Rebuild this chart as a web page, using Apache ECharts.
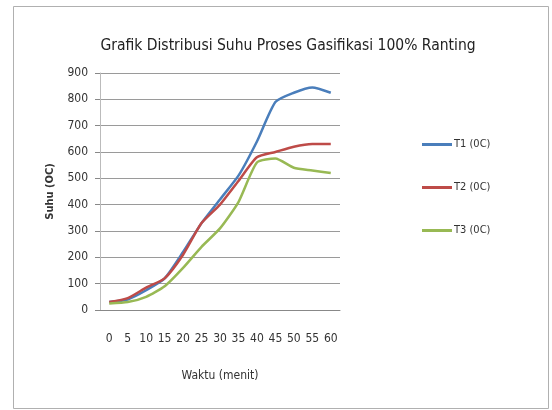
<!DOCTYPE html>
<html>
<head>
    <meta charset="utf-8">
    <style>
        html, body { height: 100%; }
        * { margin: 0; padding: 0; }
        #container { width: 552px; height: 410px; background: #fff; }
    </style>
</head>
<body>
<div id="container"></div>
<script type="text/javascript" src="https://cdn.jsdelivr.net/npm/echarts/dist/echarts.min.js"></script>
<script type="text/javascript">
    // waktu (menit)
    let waktu = ['0', '5', '10', '15', '20', '25', '30', '35', '40', '45', '50', '55', '60'];
    // suhu tiap titik
    let t1 = [30, 40, 75, 120, 220, 330, 420, 510, 640, 790, 825, 845, 825];
    let t2 = [30, 45, 85, 120, 210, 330, 400, 490, 580, 600, 620, 630, 630];
    let t3 = [25, 30, 50, 90, 160, 240, 310, 410, 560, 575, 540, 530, 520];

    let font = '"Liberation Sans Narrow", "DejaVu Sans Condensed", sans-serif';
    let myChart = echarts.init(document.getElementById('container'));

    function seri(name, data, color) {
        return {
            name: name,
            type: 'line',
            data: data,
            showSymbol: false,
            smooth: 0.2,
            lineStyle: { width: 2.5, color: color },
            itemStyle: { color: color }
        };
    }

    let option = {
        animation: false,
        backgroundColor: '#fff',
        graphic: [{
            type: 'rect',
            shape: { x: 13.5, y: 6.5, width: 535, height: 402 },
            style: { fill: 'none', stroke: '#b0b0b0', lineWidth: 1 },
            silent: true
        }],
        title: {
            text: 'Grafik Distribusi Suhu Proses Gasifikasi 100% Ranting',
            left: 283,
            top: 33,
            textAlign: 'center',
            textStyle: { fontFamily: font, fontSize: 15.5, fontWeight: 'normal', color: '#222' }
        },
        legend: {
            orient: 'vertical',
            left: 417,
            top: 134,
            itemGap: 32,
            itemWidth: 30,
            itemHeight: 3,
            icon: 'rect',
            textStyle: { fontFamily: font, fontSize: 11, color: '#333', padding: [0, 0, 0, -3] },
            data: ['T1 (0C)', 'T2 (0C)', 'T3 (0C)']
        },
        grid: { left: 100, right: 212, top: 73, bottom: 100 },
        xAxis: {
            type: 'category',
            data: waktu,
            boundaryGap: true,
            name: 'Waktu (menit)',
            nameLocation: 'middle',
            nameGap: 60,
            nameTextStyle: { fontFamily: font, fontSize: 12, color: '#333' },
            axisLine: { lineStyle: { color: '#888' } },
            axisTick: { show: false },
            axisLabel: { fontFamily: font, fontSize: 12, color: '#333', margin: 23 }
        },
        yAxis: {
            type: 'value',
            min: 0,
            max: 900,
            interval: 100,
            name: 'Suhu (OC)',
            nameLocation: 'middle',
            nameGap: 44,
            nameTextStyle: { fontFamily: font, fontSize: 11, fontWeight: 'bold', color: '#333' },
            axisLine: { show: true, lineStyle: { color: '#bbb' } },
            axisTick: { show: true, length: 5, lineStyle: { color: '#888' } },
            axisLabel: { fontFamily: font, fontSize: 12, color: '#333', margin: 12 },
            splitLine: { lineStyle: { color: '#9a9a9a' } }
        },
        series: [
            seri('T1 (0C)', t1, '#4a7ebb'),
            seri('T2 (0C)', t2, '#be4b48'),
            seri('T3 (0C)', t3, '#98b954')
        ]
    };
    myChart.setOption(option, true);
</script>
</body>
</html>
